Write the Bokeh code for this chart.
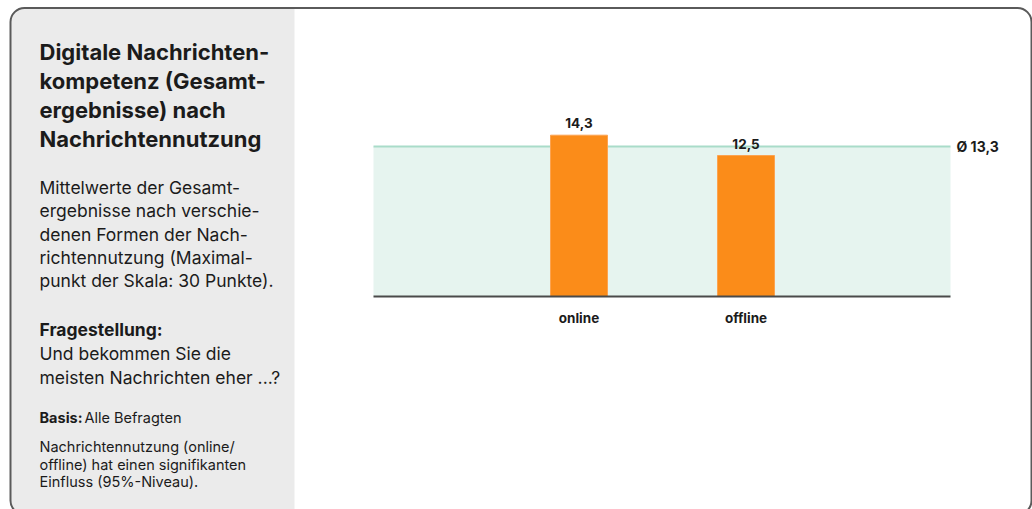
from bokeh.plotting import figure
from bokeh.models import ColumnDataSource, Range1d, BoxAnnotation
from bokeh.core.properties import value
from bokeh.embed import file_html
from bokeh.resources import INLINE

# ---------------- data ----------------
categories = ["online", "offline"]
values = [14.3, 12.5]
value_labels = ["14,3", "12,5"]
average = 13.3
average_label = "Ø 13,3"

title_lines = ["Digitale Nachrichten-", "kompetenz (Gesamt-", "ergebnisse) nach", "Nachrichtennutzung"]
subtitle_lines = ["Mittelwerte der Gesamt-", "ergebnisse nach verschie-", "denen Formen der Nach-",
                  "richtennutzung (Maximal-", "punkt der Skala: 30 Punkte)."]
question_head = "Fragestellung:"
question_lines = ["Und bekommen Sie die", "meisten Nachrichten eher ...?"]
basis_head = "Basis:"
basis_text = "Alle Befragten"
note_lines = ["Nachrichtennutzung (online/", "offline) hat einen signifikanten", "Einfluss (95%-Niveau)."]

# ---------------- layout ----------------
W, H = 1032, 509
PX_X = 167.0     # pixels per category step
PX_Y = 11.28     # pixels per point
X0 = -578.5 / PX_X
X1 = X0 + W / PX_X
Y1 = 296 / PX_Y
Y0 = Y1 - H / PX_Y

def dx(px):
    return X0 + px / PX_X

def dy(py):
    return Y1 - py / PX_Y

FONT = "Inter"
TXT = "#1b1b1b"
SHIFT = 6  # baseline correction (px)

p = figure(width=W, height=H, x_range=Range1d(X0, X1), y_range=Range1d(Y0, Y1),
           output_backend="svg", toolbar_location=None, min_border=0,
           x_axis_type=None, y_axis_type=None, outline_line_color=None,
           background_fill_color="white", border_fill_color="white")
p.grid.visible = False

# card
panel = BoxAnnotation(left=dx(10), right=dx(294), top=dy(7.5), bottom=dy(514),
                      fill_color="#ebebeb", fill_alpha=1, line_color=None,
                      border_radius=(13, 0, 0, 13), level="underlay")
card = BoxAnnotation(left=dx(10), right=dx(1031), top=dy(7.5), bottom=dy(514),
                     fill_alpha=0, line_color="#5a5a5a", line_alpha=1, line_width=2,
                     border_radius=14, level="overlay")
p.add_layout(panel)
p.add_layout(card)

# plot area extents
xl, xr = dx(373), dx(950)
idx = list(range(len(categories)))

# average band
p.quad(left=[xl], right=[xr], bottom=[0], top=[average], fill_color="#e6f4ef", line_color=None)
p.segment(x0=[xl], x1=[xr], y0=[average], y1=[average], line_color="#a9dcc9", line_width=2)

# bars
src = ColumnDataSource(dict(x=idx, top=values, lab=value_labels, cat=categories))
p.vbar(x="x", top="top", bottom=0, width=57 / PX_X, source=src, fill_color="#fb8c19", line_color="#fca350", line_width=1)

# baseline
p.segment(x0=[xl], x1=[xr], y0=[0], y1=[0], line_color="#4a4a4a", line_width=2)

# value labels
p.text(x="x", y="top", text="lab", source=src, y_offset=-6 - SHIFT, text_align="center", text_baseline="alphabetic",
       text_font=value(FONT), text_font_style="bold", text_font_size="13.5px", text_color=TXT)
# category labels
p.text(x="x", y=0, text="cat", source=src, y_offset=27 - SHIFT, text_align="center", text_baseline="alphabetic",
       text_font=value(FONT), text_font_style="bold", text_font_size="13.5px", text_color=TXT)
# average label
p.text(x=[xr], y=[average], text=[average_label], x_offset=6, text_align="left", text_baseline="middle",
       text_font=value(FONT), text_font_style="bold", text_font_size="14px", text_color=TXT)

# left panel texts
def block(lines, x_page, y_first, step, size, bold):
    ys = [dy(y_first - SHIFT + i * step) for i in range(len(lines))]
    p.text(x=[dx(x_page)] * len(lines), y=ys, text=lines, text_align="left", text_baseline="alphabetic",
           text_font=value(FONT), text_font_style="bold" if bold else "normal",
           text_font_size=size, text_color=TXT)

block(title_lines, 39, 57, 29, "22px", True)
block(subtitle_lines, 39, 193, 23.3, "17.5px", False)
block([question_head], 39, 335, 24, "17.5px", True)
block(question_lines, 39, 359, 24, "17.5px", False)
block([basis_head], 39, 423, 18, "14.5px", True)
block([basis_text], 84, 423, 18, "14.5px", False)
block(note_lines, 39, 452, 17.7, "14.5px", False)

open("out.html", "w").write(file_html(p, INLINE))
